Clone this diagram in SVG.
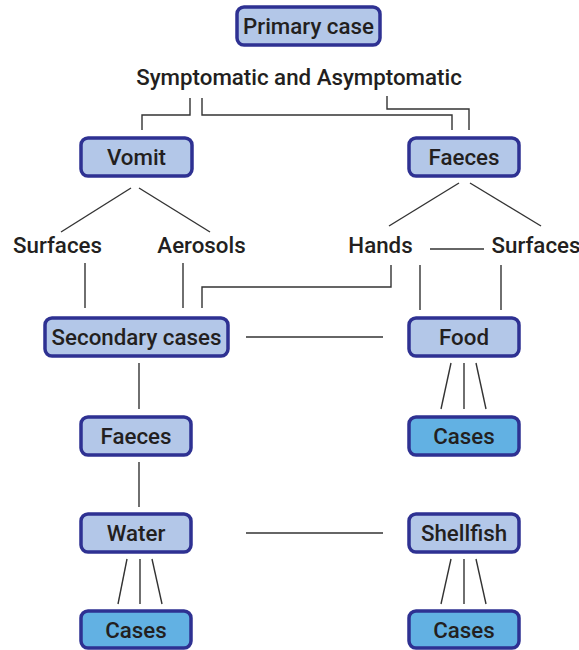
<svg xmlns="http://www.w3.org/2000/svg" width="579" height="650" viewBox="0 0 579 650">
<style>
.box{fill:#B3C7E8;stroke:#2E3192;stroke-width:3.5}
.case{fill:#62B1E3;stroke:#2E3192;stroke-width:3.5}
text{font-family:Roboto,"Liberation Sans",sans-serif;font-weight:500;font-size:22.3px;fill:#231F20;text-anchor:middle}
.c line,.c path{stroke:#333;stroke-width:1.4;fill:none}
</style>
<rect width="579" height="650" fill="#fff"/>
<g class="c" id="connectors">
<path d="M190,98 V115 H142 V130"/>
<path d="M202,98 V115 H452 V130"/>
<path d="M387,96 V109 H469 V130"/>
<line x1="131" y1="188" x2="61" y2="232"/>
<line x1="139" y1="188" x2="210" y2="232"/>
<line x1="459" y1="183" x2="389" y2="226"/>
<line x1="470" y1="183" x2="541" y2="226"/>
<line x1="430" y1="249" x2="484" y2="249"/>
<line x1="85" y1="263" x2="85" y2="308"/>
<line x1="183" y1="263" x2="183" y2="308"/>
<path d="M391,265 V287 H202 V308"/>
<line x1="420" y1="265" x2="420" y2="310"/>
<line x1="501" y1="265" x2="501" y2="310"/>
<line x1="246" y1="337" x2="383" y2="337"/>
<line x1="139" y1="363" x2="139" y2="409"/>
<line x1="451" y1="363" x2="441" y2="409"/>
<line x1="464" y1="363" x2="464" y2="409"/>
<line x1="476" y1="363" x2="486" y2="409"/>
<line x1="139" y1="462" x2="139" y2="507"/>
<line x1="246" y1="533" x2="383" y2="533"/>
<line x1="127" y1="559" x2="118" y2="604"/>
<line x1="140" y1="559" x2="140" y2="604"/>
<line x1="152" y1="559" x2="162" y2="604"/>
<line x1="451" y1="559" x2="441" y2="604"/>
<line x1="464" y1="559" x2="464" y2="604"/>
<line x1="476" y1="559" x2="486" y2="604"/>
</g>
<g id="primary"><rect class="box" x="237" y="7" width="143" height="38" rx="7"/><text x="308.5" y="33.5">Primary case</text></g>
<g id="symptomatic"><text x="299" y="85">Symptomatic and Asymptomatic</text></g>
<g id="vomit"><rect class="box" x="81" y="138" width="111" height="38" rx="7"/><text x="136.5" y="164.5">Vomit</text></g>
<g id="faeces1"><rect class="box" x="409" y="138" width="110" height="38" rx="7"/><text x="464" y="164.5">Faeces</text></g>
<g id="surfaces1"><text x="57.5" y="253">Surfaces</text></g>
<g id="aerosols"><text x="201.5" y="253">Aerosols</text></g>
<g id="hands"><text x="380.5" y="253">Hands</text></g>
<g id="surfaces2"><text x="536" y="253">Surfaces</text></g>
<g id="secondary"><rect class="box" x="45" y="318" width="183" height="38" rx="7"/><text x="136.5" y="344.5">Secondary cases</text></g>
<g id="food"><rect class="box" x="409" y="318" width="110" height="38" rx="7"/><text x="464" y="344.5">Food</text></g>
<g id="faeces2"><rect class="box" x="81" y="417" width="110" height="38" rx="7"/><text x="136" y="443.5">Faeces</text></g>
<g id="cases1"><rect class="case" x="409" y="417" width="110" height="38" rx="7"/><text x="464" y="443.5">Cases</text></g>
<g id="water"><rect class="box" x="81" y="514" width="110" height="38" rx="7"/><text x="136" y="540.5">Water</text></g>
<g id="shellfish"><rect class="box" x="409" y="514" width="110" height="38" rx="7"/><text x="464" y="540.5">Shellfish</text></g>
<g id="cases2"><rect class="case" x="81" y="611" width="110" height="37" rx="7"/><text x="136" y="637.5">Cases</text></g>
<g id="cases3"><rect class="case" x="409" y="611" width="110" height="37" rx="7"/><text x="464" y="637.5">Cases</text></g>
</svg>
